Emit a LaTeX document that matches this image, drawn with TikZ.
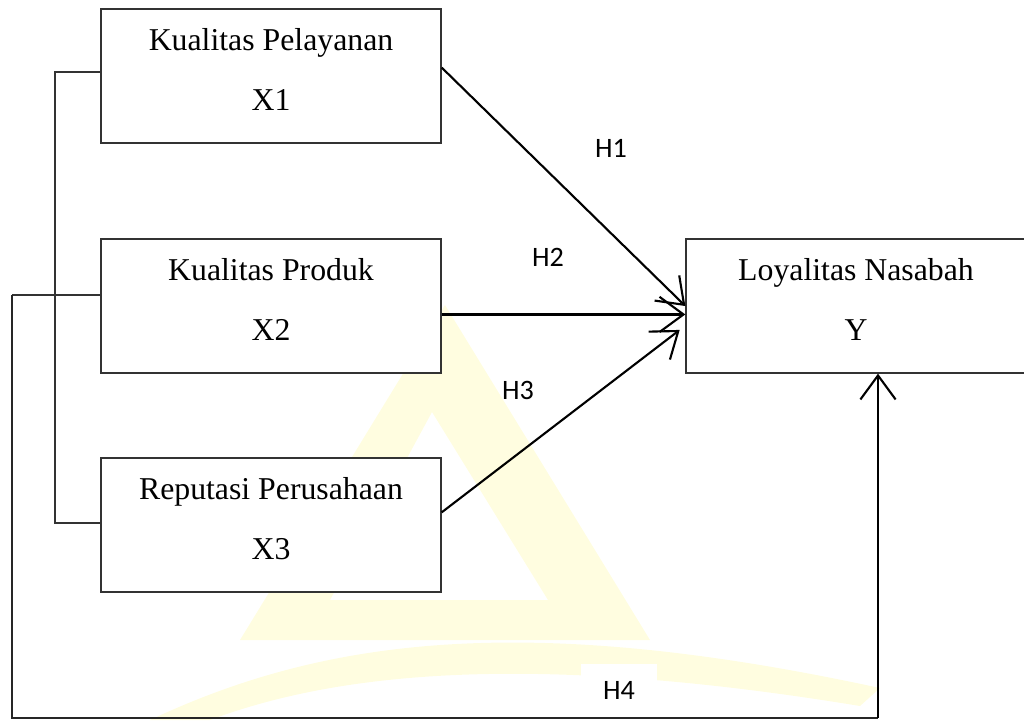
\documentclass[tikz,border=0pt]{standalone}
\usepackage{fontspec}
\setmainfont{Liberation Serif}
\newfontfamily\hfont{Carlito}
\usetikzlibrary{positioning, arrows.meta, calc}

\begin{document}
\begin{tikzpicture}[
  x=0.0125cm, y=-0.0125cm,
  vbox/.style={draw=black!80, line width=0.45pt, fill=white, align=center,
               minimum width=4.25cm, minimum height=1.675cm, inner sep=0pt,
               font=\fontsize{11.3}{21.2}\selectfont},
  hlab/.style={font=\hfont\fontsize{10}{12}\selectfont, inner sep=1pt},
  conn/.style={line width=0.75pt, -{Straight Barb[length=3mm, width=4.4mm]}},
  bracket/.style={draw=black!80, line width=0.45pt},
  outer/.style={draw=black!85, line width=0.6pt},
  wmark/.style={fill=yellow!12, draw=none},
]
  \useasboundingbox (0,0) rectangle (1024,720);

  % faint watermark in the back
  \fill[wmark, even odd rule] (445,305) -- (240,640) -- (650,640) -- cycle
                              (432,412) -- (330,600) -- (548,600) -- cycle;
  \fill[wmark] (150,720) .. controls (320,640) and (520,610) .. (880,688)
               -- (860,706) .. controls (520,650) and (330,675) .. (210,720) -- cycle;

  % variables
  \node[vbox] (x1) at (271,76)  {Kualitas Pelayanan\\X1\\[-16.5pt]\mbox{}};
  \node[vbox] (x2) at (271,306) {Kualitas Produk\\X2\\[-16.5pt]\mbox{}};
  \node[vbox] (x3) at (271,525) {Reputasi Perusahaan\\X3\\[-16.5pt]\mbox{}};
  \node[vbox] (y)  at (856,306) {Loyalitas Nasabah\\Y\\[-16.5pt]\mbox{}};

  % hypotheses
  \draw[conn] ([yshift=3pt]x1.east) -- (y.west);
  \draw[conn] ([yshift=-3pt]x2.east) -- ([yshift=-3pt]y.west);
  \draw[conn] ([yshift=4.5pt]x3.east) -- ([xshift=-2pt, yshift=-8.5pt]y.west);

  \node[hlab] (h1) at (611,148) {H1};
  \node[hlab] (h2) at (548,257) {H2};
  \node[hlab] (h3) at (518,390) {H3};
  \node[hlab, fill=white, minimum width=0.95cm, minimum height=0.64cm] (h4) at (619,690) {H4};

  % left bracket
  \coordinate (b1) at (55,72);
  \coordinate (b2) at (55,295);
  \coordinate (b3) at (55,523);
  \draw[bracket] (b1 -| x1.west) -- (b1) -- (b3) -- (b3 -| x3.west);

  % simultaneous path (H4)
  \coordinate (o2) at (12,295);
  \coordinate (o3) at (12,718);
  \coordinate (o4) at (878,718);
  \draw[bracket] (b2 -| x2.west) -- (o2);
  \draw[outer] (o2) -- (o3) -- (o4);
  \draw[conn] (o4) -- (o4 |- y.south);
\end{tikzpicture}
\end{document}
